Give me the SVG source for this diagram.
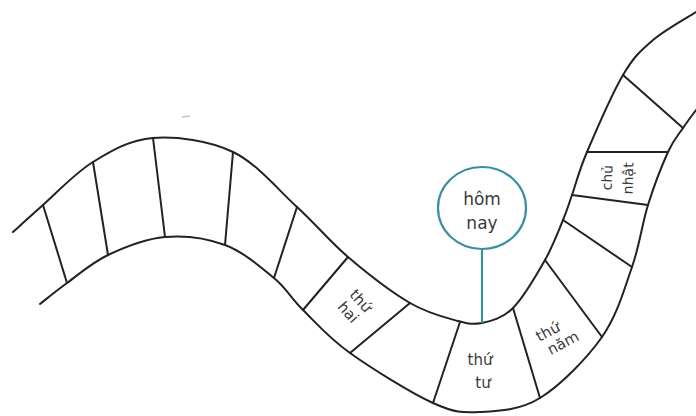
<svg xmlns="http://www.w3.org/2000/svg" width="696" height="416" viewBox="0 0 696 416">
<style>
.edge{fill:none;stroke:#222;stroke-width:2;stroke-linecap:round;stroke-linejoin:round}
.rung{stroke:#222;stroke-width:2;stroke-linecap:round}
.lbl{font-family:"DejaVu Sans","Liberation Sans",sans-serif;font-size:14px;fill:#3a3a3a;text-anchor:middle}
.teal{fill:none;stroke:#3c8ea3;stroke-width:2.2}
</style>
<rect width="696" height="416" fill="#fff"/>
<g id="road">
<path class="edge" d="M13,232 C18,227.5 29.7,216.7 43,205 C56.3,193.3 74.7,173.2 93,162 C111.3,150.8 129.7,139.7 153,138 C176.3,136.3 209,140.5 233,152 C257,163.5 277.8,189.5 297,207 C316.2,224.5 329.2,241 348,257 C366.8,273 391.7,292.3 410,303 C428.3,313.7 446,317.7 458,321 C470,324.2 472.8,324.5 482,323 C491.2,321 502.5,318.5 513,308 C523.5,297.5 536.7,274.7 545,260 C553.3,245.3 558.5,230.8 563,220 C567.5,209.2 568,206.3 572,195 C576,183.7 578.5,172 587,152 C595.5,132 612,93.7 623,75 C634,56.3 640.8,50.5 653,40 C665.2,29.5 688.8,16.7 696,12"/>
<path class="edge" d="M40,304 C44.5,300.5 55.7,291.2 67,283 C78.3,274.8 91.7,262.7 108,255 C124.3,247.3 145.5,238.7 165,237 C184.5,235.3 206.8,238.2 225,245 C243.2,251.8 261,267.2 274,278 C287,288.8 290.3,297.5 303,310 C315.7,322.5 328.3,337.5 350,353 C371.7,368.5 411.3,393.2 433,403 C454.7,412.8 462.2,412.8 480,412 C497.8,411.2 519.7,410.5 540,398 C560.3,385.5 586.7,358.8 602,337 C617.3,315.2 624.3,289 632,267 C639.7,245 642,224.2 648,205 C654,185.8 662.2,164.8 668,152 C673.8,139.2 678.3,135 683,128 C687.7,121 693.8,113 696,110"/>
</g>
<g id="rungs">
<line class="rung" x1="43" y1="205" x2="67" y2="283"/>
<line class="rung" x1="93" y1="162" x2="108" y2="255"/>
<line class="rung" x1="153" y1="138" x2="165" y2="237"/>
<line class="rung" x1="233" y1="152" x2="225" y2="245"/>
<line class="rung" x1="297" y1="207" x2="274" y2="278"/>
<line class="rung" x1="348" y1="257" x2="303" y2="310"/>
<line class="rung" x1="410" y1="303" x2="350" y2="353"/>
<line class="rung" x1="460" y1="322" x2="433" y2="403"/>
<line class="rung" x1="513" y1="308" x2="540" y2="398"/>
<line class="rung" x1="545" y1="260" x2="602" y2="337"/>
<line class="rung" x1="563" y1="220" x2="632" y2="267"/>
<line class="rung" x1="572" y1="195" x2="648" y2="205"/>
<line class="rung" x1="587" y1="152" x2="668" y2="152"/>
<line class="rung" x1="623" y1="75" x2="683" y2="128"/>
</g>
<g id="cell-thu-hai">
<text class="lbl" style="font-size:15px" transform="translate(354,307) rotate(48)"><tspan x="0" y="-4">thứ</tspan><tspan x="0" y="13">hai</tspan></text>
</g>
<g id="cell-thu-tu">
<text class="lbl" style="font-size:15px"><tspan x="480" y="365">thứ</tspan><tspan x="483" y="388">tư</tspan></text>
</g>
<g id="cell-thu-nam">
<text class="lbl" style="font-size:15px" transform="translate(557,336) rotate(-28)"><tspan x="-6" y="-3">thứ</tspan><tspan x="2" y="14">năm</tspan></text>
</g>
<g id="cell-chu-nhat">
<text class="lbl" style="font-size:14px" transform="translate(618,178) rotate(-88)"><tspan x="0" y="-6">chủ</tspan><tspan x="0" y="15">nhật</tspan></text>
</g>
<g id="connectors">
<line class="teal" x1="482" y1="249" x2="482" y2="323"/>
</g>
<g id="hom-nay">
<ellipse class="teal" cx="482" cy="208" rx="44" ry="41"/>
<text class="lbl" style="font-size:17px"><tspan x="482" y="205">hôm</tspan><tspan x="482" y="229">nay</tspan></text>
</g>
<line x1="182" y1="117" x2="190" y2="116" stroke="#999" stroke-width="1.5" opacity="0.6"/>
</svg>
